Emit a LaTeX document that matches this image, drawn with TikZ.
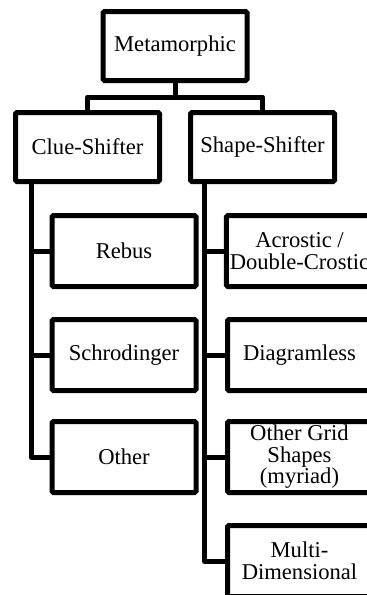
\documentclass[tikz,border=0pt]{standalone}
\usepackage{fontspec}
\setmainfont{Liberation Serif}
\usetikzlibrary{calc}

\begin{document}
\begin{tikzpicture}[x=1pt,y=1pt,
        box/.style={draw,line width=5pt,rounded corners=1.5pt,minimum width=144pt,minimum height=71pt,align=center,font=\fontsize{22.6}{21.5}\selectfont},
        link/.style={line width=5pt,line join=round}]
        \useasboundingbox (0,0) rectangle (367,-595);
        \clip (0,0) rectangle (367,-595);    % right column runs off the page

        \node[box,minimum height=69pt] (meta) at (175,-46) {Metamorphic};
        \node[box,minimum height=69pt] (clue) at (87.5,-147) {Clue-Shifter};
        \node[box,minimum height=69pt] (shape) at (262.5,-147) {Shape-Shifter};

        % clue-shifter kinds
        \node[box] (rebus) at (124,-251) {Rebus};
        \node[box] (schro) at (124,-355) {Schrodinger};
        \node[box] (other) at (124,-457) {Other};

        % shape-shifter kinds
        \node[box] (acro) at (299.5,-251) {Acrostic /\\Double-Crostic};
        \node[box] (diag) at (299.5,-355) {Diagramless};
        \node[box] (grid) at (299.5,-457) {Other Grid\\Shapes\\(myriad)};
        \node[box] (multi) at (299.5,-561) {Multi-\\Dimensional};

        \draw[link] (meta.south) -- ++(0,-14) -| (clue.north);
        \draw[link] (meta.south) -- ++(0,-14) -| (shape.north);

        \coordinate (cl) at ($(clue.south west)+(18,0)$);
        \coordinate (cs) at ($(shape.south west)+(16,0)$);
        \foreach \n in {rebus,schro,other} \draw[link] (cl) |- (\n.west);
        \foreach \n in {acro,diag,grid,multi} \draw[link] (cs) |- (\n.west);
\end{tikzpicture}
\end{document}
